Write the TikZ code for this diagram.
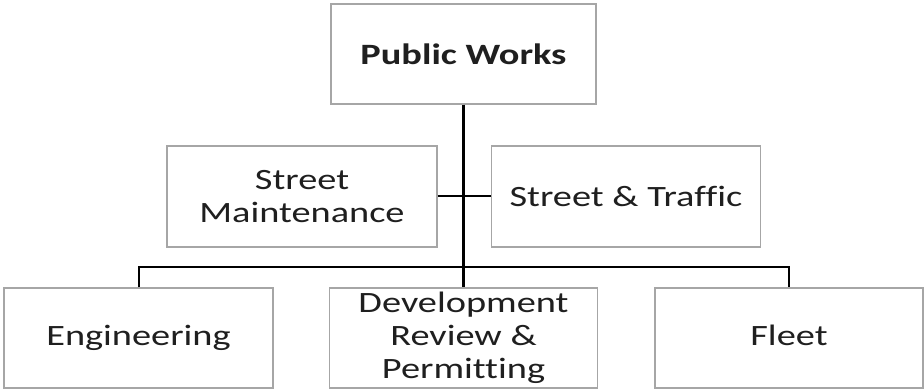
\documentclass[tikz,border=0pt]{standalone}
\usepackage{fontspec}
\setmainfont{Carlito}[FakeStretch=1.3,Ligatures={NoCommon}]
\begin{document}
\begin{tikzpicture}[x=1pt,y=-1pt,
  box/.style={draw=black!35, line width=1.2pt, fill=white, inner sep=0pt, align=center, text=black!88,
    font=\fontsize{29.5}{33}\selectfont},
  conn/.style={line width=2pt, draw=black},
  trunk/.style={line width=3pt, draw=black}]
\useasboundingbox (0,0) rectangle (924,390);
\node[box, minimum width=265pt, minimum height=100pt, font=\bfseries\fontsize{29.5}{33}\selectfont] (pw) at (463.5,54) {Public Works};
\node[box, minimum width=270pt, minimum height=101pt] (sm) at (302,196.5) {Street\\Maintenance};
\node[box, minimum width=269pt, minimum height=101pt] (st) at (626,196.5) {Street \& Traffic};
\node[box, minimum width=269pt, minimum height=100pt] (eng) at (138.5,338) {Engineering};
\node[box, minimum width=268pt, minimum height=100pt] (dev) at (463.5,338) {Development\\Review \&\\Permitting};
\node[box, minimum width=268pt, minimum height=100pt] (fl) at (789,338) {Fleet\vphantom{g}};
\coordinate (bus) at (463.5,267);
\draw[trunk] (pw.south) -- (dev.north);
\draw[conn] (eng.north) |- (bus) -| (fl.north);
\draw[conn] (sm.east) -- (st.west);
\end{tikzpicture}
\end{document}
